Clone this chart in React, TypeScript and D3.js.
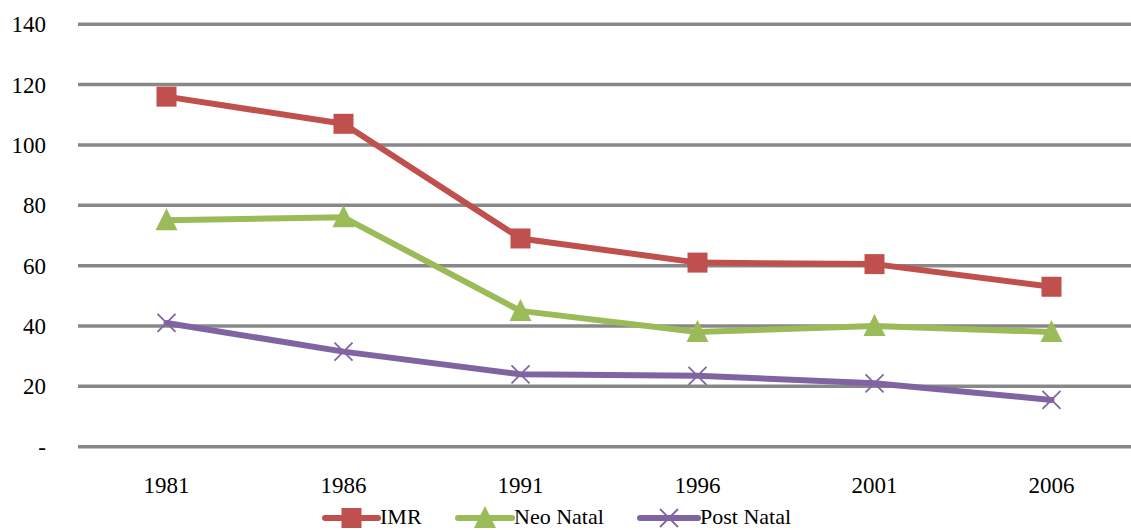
import React from "react";
import * as d3 from "d3";

const years = ["1981", "1986", "1991", "1996", "2001", "2006"];
const imr = [116, 107, 69, 61, 60.5, 53];
const neoNatal = [75, 76, 45, 38, 40, 38];
const postNatal = [41, 31.5, 24, 23.5, 21, 15.5];
const yTicks = [0, 20, 40, 60, 80, 100, 120, 140];

const W = 1131;
const H = 530;
const FONT = "'Liberation Serif', 'Times New Roman', serif";

const series = [
  { name: "IMR", values: imr, color: "#C0504D", marker: "square" },
  { name: "Neo Natal", values: neoNatal, color: "#9BBB59", marker: "triangle" },
  { name: "Post Natal", values: postNatal, color: "#8064A2", marker: "x" },
];

function Marker({ type, x, y, color }: { type: string; x: number; y: number; color: string }) {
  if (type === "square") {
    return <rect x={x - 10} y={y - 10} width={20} height={20} fill={color} />;
  }
  if (type === "triangle") {
    const p = `${x},${y - 12} ${x + 11},${y + 10} ${x - 11},${y + 10}`;
    return <polygon points={p} fill={color} />;
  }
  const s = 9;
  return (
    <g stroke={color} strokeWidth={1.8}>
      <line x1={x - s} y1={y - s} x2={x + s} y2={y + s} />
      <line x1={x - s} y1={y + s} x2={x + s} y2={y - s} />
    </g>
  );
}

export default function App() {
  const x = d3.scalePoint<string>().domain(years).range([78, 1140]).padding(0.5);
  const y = d3.scaleLinear().domain([0, 140]).range([446.7, 24.2]);
  const line = d3
    .line<number>()
    .x((_, i) => x(years[i]) as number)
    .y((d) => y(d));

  const legendItems = [
    { lx: 325, tx: 380 },
    { lx: 458, tx: 514 },
    { lx: 640, tx: 700 },
  ];

  return (
    <svg
      width={W}
      height={H}
      style={{ position: "absolute", left: 0, top: 0, background: "#fff" }}
      fontFamily={FONT}
    >
      {yTicks.map((t) => (
        <g key={t}>
          <line x1={78} x2={W} y1={y(t)} y2={y(t)} stroke="#888888" strokeWidth={3.5} />
          <text x={46} y={y(t)} dy="0.35em" textAnchor="end" fontSize={23} fill="#000">
            {t === 0 ? "-" : t}
          </text>
        </g>
      ))}
      {years.map((yr) => (
        <text key={yr} x={x(yr)} y={493} textAnchor="middle" fontSize={23} fill="#000">
          {yr}
        </text>
      ))}
      {series.map((s) => (
        <g key={s.name}>
          <path
            d={line(s.values) || ""}
            fill="none"
            stroke={s.color}
            strokeWidth={6}
            strokeLinejoin="round"
            strokeLinecap="round"
          />
          {s.values.map((v, i) => (
            <Marker key={i} type={s.marker} x={x(years[i]) as number} y={y(v)} color={s.color} />
          ))}
        </g>
      ))}
      {series.map((s, i) => {
        const it = legendItems[i];
        const cy = 518;
        return (
          <g key={s.name}>
            <line
              x1={it.lx}
              x2={it.tx - 2}
              y1={cy}
              y2={cy}
              stroke={s.color}
              strokeWidth={6}
              strokeLinecap="round"
            />
            <Marker type={s.marker} x={(it.lx + it.tx - 2) / 2} y={cy} color={s.color} />
            <text x={it.tx} y={524} fontSize={22} fill="#000">
              {s.name}
            </text>
          </g>
        );
      })}
    </svg>
  );
}
